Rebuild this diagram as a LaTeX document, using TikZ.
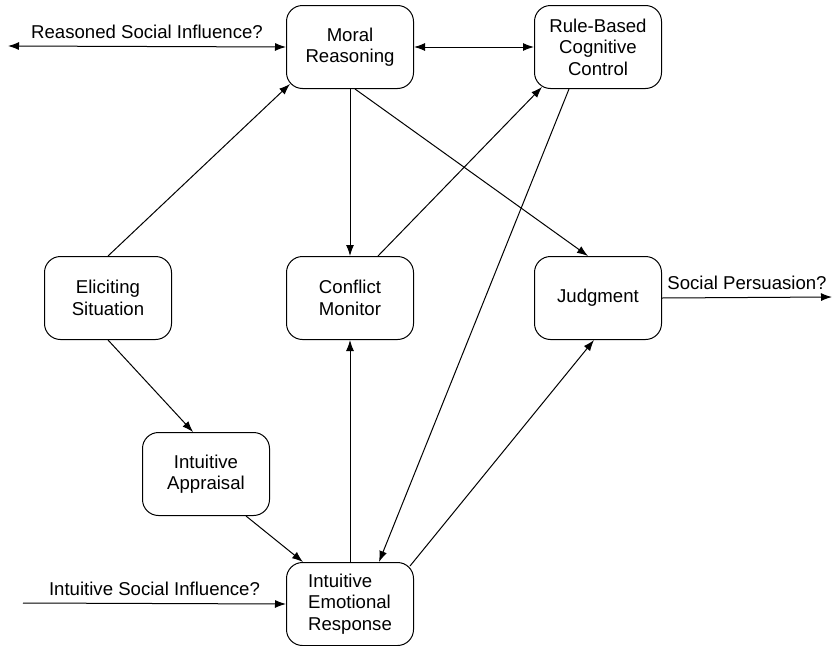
\documentclass[tikz,border=0pt]{standalone}
\usepackage{fontspec}
\setmainfont{Liberation Sans}
\usepackage{tikz}
\usetikzlibrary{arrows.meta,positioning}

\begin{document}
\begin{tikzpicture}[
    >={Latex[length=11pt,width=8pt]},
    line width=1pt,
    every node/.style={font=\fontsize{18.6}{21.5}\selectfont},
    block/.style={rounded corners=16pt, draw, line width=1pt, align=center, minimum width=127pt, minimum height=83pt, inner sep=2pt},
    lbl/.style={above, inner sep=0pt, yshift=7pt}
]
\useasboundingbox (0,0) rectangle (832pt,-645pt);

\node[block] (moral) at (350pt,-47pt) {Moral\\Reasoning};
\node[block, right=120pt of moral] (rule) {Rule-Based\\Cognitive\\Control};
\node[block, below=167pt of moral] (monitor) {Conflict\\Monitor};
\node[block, left=114pt of monitor] (elicit) {Eliciting\\Situation};
\node[block, below=167pt of rule] (judge) {Judgment};
\node[block, below=92pt of elicit, xshift=98pt] (appraisal) {Intuitive\\Appraisal};
\node[block, below=222pt of monitor, align=left] (emotion) {Intuitive\\Emotional\\Response};

\coordinate (reasonL) at (8pt,-46pt);
\coordinate (intuitL) at (23pt,-603pt);
\coordinate (persuR) at (832pt,-297pt);

\draw[<->] (reasonL) -- (moral.west) node[lbl, midway] {Reasoned Social Influence?};
\draw[<->] (moral) -- (rule);
\draw[->] (elicit.north) -- ([shift={(4pt,5pt)}]moral.south west);
\draw[->] (moral.south) -- (monitor.north);
\draw[->] ([xshift=5pt]moral.south) -- ([xshift=-10pt]judge.north);
\draw[->] ([xshift=28pt]monitor.north) -- ([shift={(8pt,2pt)}]rule.south west);
\draw[->] ([xshift=-29pt]rule.south) -- ([xshift=29pt]emotion.north);
\draw[->] (emotion.north) -- (monitor.south);
\draw[->] ([shift={(-4pt,-4pt)}]emotion.north east) -- ([xshift=-4pt]judge.south);
\draw[->] (elicit.south) -- ([xshift=-13pt]appraisal.north);
\draw[->] ([xshift=40pt]appraisal.south) -- ([xshift=17pt]emotion.north west);
\draw[->] (intuitL) -- (emotion.west) node[lbl, midway] {Intuitive Social Influence?};
\draw[->] (judge.east) -- (persuR) node[lbl, midway] {Social Persuasion?};

\end{tikzpicture}
\end{document}
